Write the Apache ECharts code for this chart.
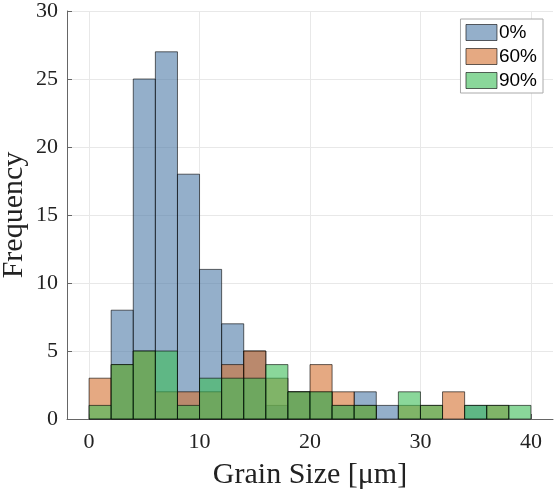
<!DOCTYPE html>
<html>
<head>
<meta charset="utf-8">
<script src="https://cdn.jsdelivr.net/npm/echarts@6/dist/echarts.min.js"></script>
<style>
  html, body { margin: 0; padding: 0; background: #fff; }
  #chart { width: 555px; height: 492px; }
</style>
</head>
<body>
<div id="chart"></div>
<script>
// bin edges (2 um wide bins from 0 to 40)
const binStarts = [0, 2, 4, 6, 8, 10, 12, 14, 16, 18, 20, 22, 24, 26, 28, 30, 32, 34, 36, 38];
const binWidth = 2;

const counts0 = [0, 8, 25, 27, 18, 11, 7, 5, 1, 2, 2, 1, 2, 1, 0, 0, 0, 1, 0, 0];
const counts60 = [3, 4, 5, 2, 2, 2, 4, 5, 3, 2, 4, 2, 1, 0, 1, 1, 2, 0, 1, 0];
const counts90 = [1, 4, 5, 5, 1, 3, 3, 3, 4, 2, 2, 1, 1, 0, 2, 1, 0, 1, 1, 1];

const seriesNames = ['0%', '60%', '90%'];
const seriesColors = ['#4d7aa7', '#d4702f', '#3cbc57'];

const xTicks = [0, 10, 20, 30, 40];

const serif = '"Liberation Serif", "DejaVu Serif", serif';

function histSeries(name, counts, color) {
  return {
    name: name,
    type: 'custom',
    itemStyle: { color: color, opacity: 0.6, borderColor: '#000', borderWidth: 1 },
    data: binStarts.map((s, i) => [s, s + binWidth, counts[i]]),
    encode: { x: [0, 1], y: 2 },
    renderItem: function (params, api) {
      const h = api.value(2);
      if (!h) return null;
      const p0 = api.coord([api.value(0), 0]);
      const p1 = api.coord([api.value(1), h]);
      return {
        type: 'rect',
        shape: { x: p0[0], y: p1[1], width: p1[0] - p0[0], height: p0[1] - p1[1] },
        style: { fill: color, stroke: '#000', lineWidth: 1, opacity: 0.6 }
      };
    }
  };
}

const chart = echarts.init(document.getElementById('chart'));
chart.setOption({
  animation: false,
  grid: { left: 67, right: 2, top: 11, bottom: 73, containLabel: false, outerBoundsMode: 'none' },
  legend: {
    orient: 'vertical',
    right: 12,
    top: 19,
    backgroundColor: '#fff',
    borderColor: '#aaa',
    borderWidth: 1,
    padding: [4, 6, 3, 5],
    itemWidth: 31,
    itemHeight: 16,
    itemGap: 5,
    icon: 'rect',
    textStyle: { fontFamily: '"Liberation Sans", Arial, sans-serif', fontSize: 19, lineHeight: 16, color: '#000', padding: [0, 0, 0, -3] },
    data: seriesNames.map((n, i) => ({
      name: n,
      itemStyle: { color: seriesColors[i], opacity: 0.6, borderColor: '#000', borderWidth: 1 }
    }))
  },
  xAxis: {
    type: 'value',
    min: -2,
    max: 42,
    name: 'Grain Size [\u03bcm]',
    nameLocation: 'middle',
    nameGap: 41,
    nameMoveOverlap: false,
    nameTextStyle: { fontFamily: serif, fontSize: 30, color: '#222' },
    axisLine: { show: true, onZero: false, lineStyle: { color: '#666' } },
    axisTick: { show: true, inside: true, length: 5, customValues: xTicks, lineStyle: { color: '#666' } },
    axisLabel: { customValues: xTicks, fontFamily: serif, fontSize: 22, color: '#222', margin: 12 },
    splitLine: { show: true, lineStyle: { color: '#e8e8e8' } }
  },
  yAxis: {
    type: 'value',
    min: 0,
    max: 30,
    interval: 5,
    name: 'Frequency',
    nameLocation: 'middle',
    nameGap: 38,
    nameMoveOverlap: false,
    nameTextStyle: { fontFamily: serif, fontSize: 30, color: '#222' },
    axisLine: { show: true, onZero: false, lineStyle: { color: '#666' } },
    axisTick: { show: true, inside: true, length: 5, lineStyle: { color: '#666' } },
    axisLabel: { fontFamily: serif, fontSize: 22, color: '#222', margin: 9 },
    splitLine: { show: true, lineStyle: { color: '#e8e8e8' } }
  },
  series: seriesNames.map((n, i) => histSeries(n, [counts0, counts60, counts90][i], seriesColors[i]))
});
</script>
</body>
</html>
